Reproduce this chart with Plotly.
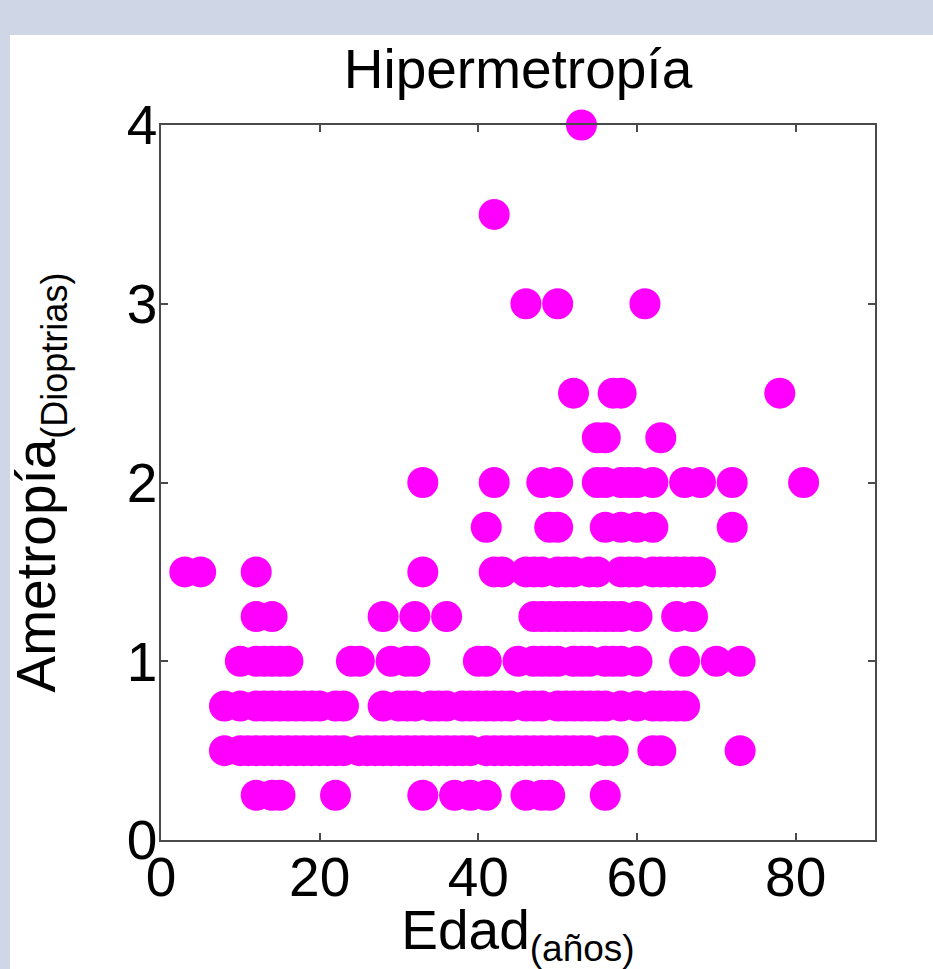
import plotly.graph_objects as go

# Ages (años) observed at each ametropía level (dioptrías)
levels = [0.25, 0.5, 0.75, 1.0, 1.25, 1.5, 1.75, 2.0, 2.25, 2.5, 3.0, 3.5, 4.0]

ages_025 = [12, 14, 15, 22, 33, 37, 39, 41, 46, 48, 49, 56]
ages_050 = [8, 10, 11, 12, 13, 14, 15, 16, 17, 18, 19, 20, 21, 22, 23, 25, 26, 27, 28, 29,
            30, 31, 32, 33, 34, 35, 36, 37, 38, 39, 41, 42, 43, 44, 45, 46, 47, 48, 49, 50,
            51, 52, 53, 54, 56, 57, 62, 63, 73]
ages_075 = [8, 10, 12, 13, 14, 15, 16, 17, 18, 19, 20, 22, 23, 28, 30, 31, 32, 34, 35, 36,
            38, 39, 40, 41, 42, 43, 44, 46, 47, 48, 50, 51, 52, 53, 54, 55, 56, 58, 60, 62,
            63, 64, 65, 66]
ages_100 = [10, 12, 13, 14, 15, 16, 24, 25, 29, 31, 32, 40, 41, 45, 47, 48, 49, 50, 52, 53,
            54, 56, 57, 58, 60, 66, 70, 73]
ages_125 = [12, 14, 28, 32, 36, 47, 48, 49, 50, 51, 52, 53, 54, 55, 56, 57, 58, 60, 65, 67]
ages_150 = [3, 5, 12, 33, 42, 43, 46, 47, 48, 50, 51, 52, 54, 55, 58, 59, 60, 62, 63, 64,
            65, 66, 67, 68]
ages_175 = [41, 49, 50, 56, 58, 60, 62, 72]
ages_200 = [33, 42, 48, 50, 55, 56, 58, 59, 60, 62, 66, 68, 72, 81]
ages_225 = [55, 56, 63]
ages_250 = [52, 57, 58, 78]
ages_300 = [46, 50, 61]
ages_350 = [42]
ages_400 = [53]

groups = [ages_025, ages_050, ages_075, ages_100, ages_125, ages_150, ages_175,
          ages_200, ages_225, ages_250, ages_300, ages_350, ages_400]

x_vals, y_vals = [], []
for lvl, ages in zip(levels, groups):
    x_vals += ages
    y_vals += [lvl] * len(ages)

x_ticks = [0, 20, 40, 60, 80]
y_ticks = [0, 1, 2, 3, 4]

FONT = "Liberation Sans, Arial, sans-serif"
FS = 55

fig = go.Figure()
fig.add_trace(go.Scatter(
    x=x_vals, y=y_vals, mode="markers",
    marker=dict(color="#FF00FF", size=31, line=dict(width=0)),
    cliponaxis=False, showlegend=False,
))

axis_common = dict(
    showline=True, linecolor="#4a4a4a", linewidth=1.5, mirror="ticks",
    ticks="inside", ticklen=7, tickwidth=1.5, tickcolor="#4a4a4a",
    showgrid=False, zeroline=False,
    tickfont=dict(family=FONT, size=FS, color="black"),
)

fig.update_layout(
    width=933, height=969,
    margin=dict(l=161, r=58, t=125, b=129, autoexpand=False),
    paper_bgcolor="#CFD7E6",
    plot_bgcolor="white",
    font=dict(family=FONT, color="black"),
    title=dict(text="Hipermetropía", x=0.5, xref="paper", xanchor="center",
               y=1 - 69 / 969, yanchor="middle",
               font=dict(family=FONT, size=FS, color="black")),
    xaxis=dict(range=[0, 90], tickvals=x_ticks, ticktext=[str(v) for v in x_ticks],
               ticklabelstandoff=-12,
               title=dict(text="Edad<sub><span style='font-size:37px'>(años)</span></sub>",
                          standoff=36,
                          font=dict(family=FONT, size=FS, color="black")),
               **axis_common),
    yaxis=dict(range=[0, 4], tickvals=y_ticks, ticktext=[str(v) for v in y_ticks],
               ticklabelstandoff=-9,
               title=dict(text="Ametropía<sub><span style='font-size:36px'>(Dioptrias)</span></sub>",
                          standoff=53,
                          font=dict(family=FONT, size=FS, color="black")),
               **axis_common),
    shapes=[dict(type="rect", xref="paper", yref="paper",
                 x0=(10 - 161) / 714, x1=1.2, y0=-0.3, y1=(840 - 35) / 715,
                 fillcolor="white", line=dict(width=0), layer="below")],
)

fig.write_html("out.html", config={"displayModeBar": False},
               post_script="document.body.style.margin='0';document.body.style.overflow='hidden';")
